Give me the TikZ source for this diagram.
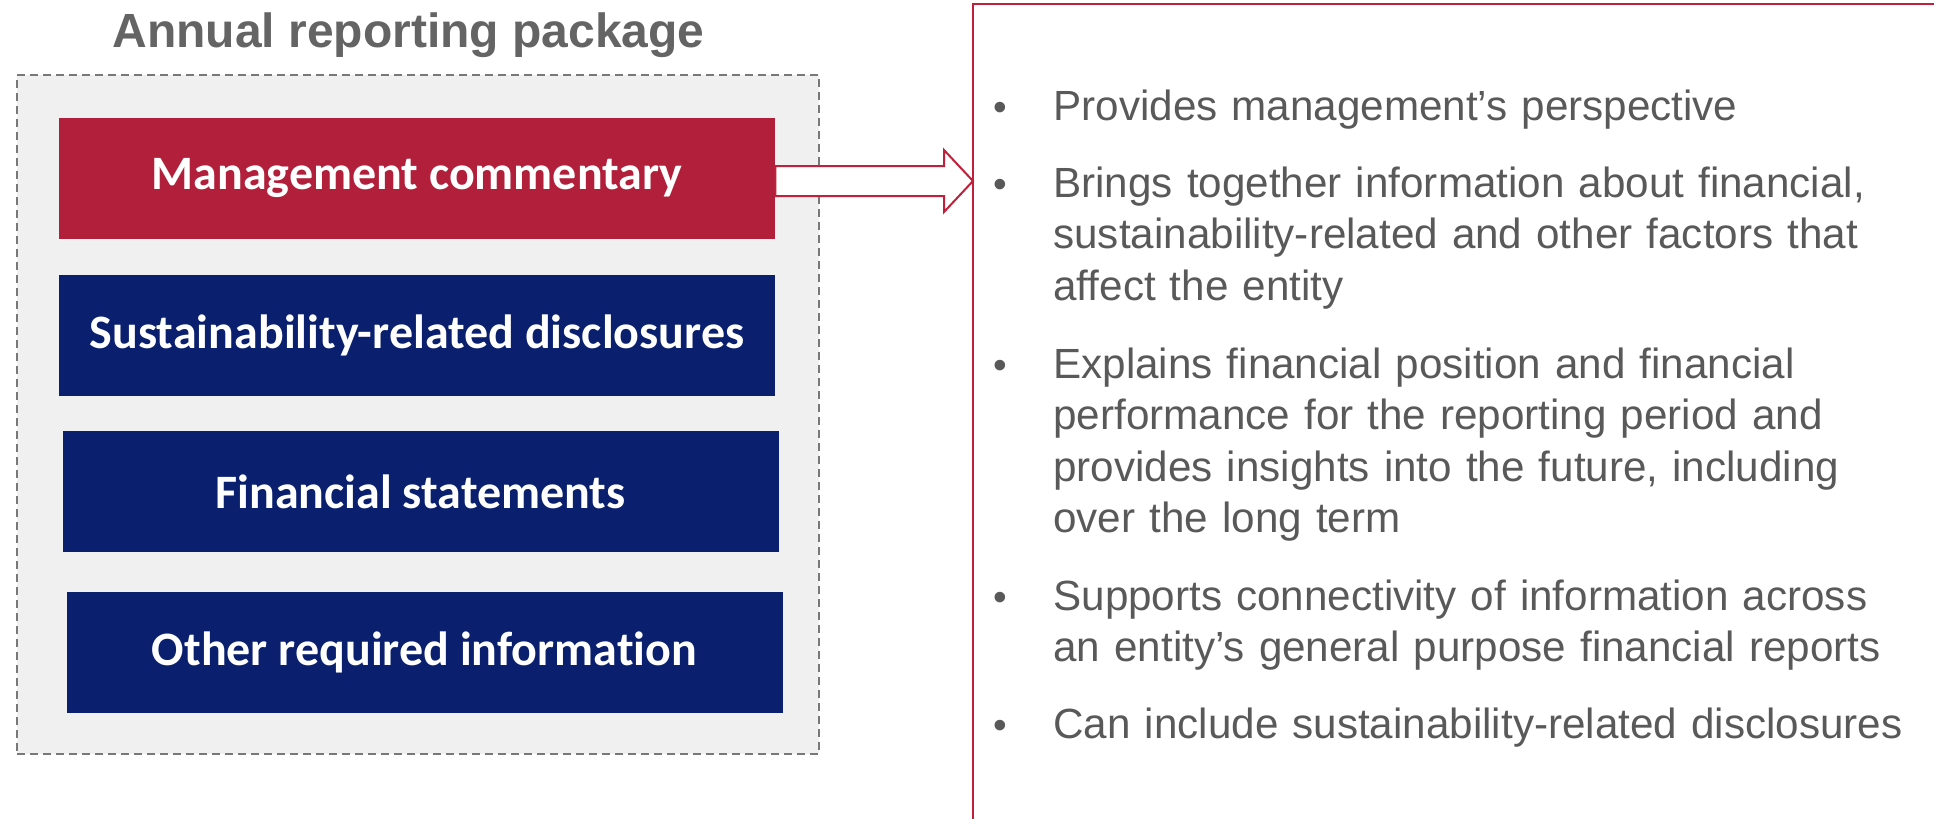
\documentclass[tikz,border=0pt]{standalone}
\usepackage{fontspec}
\setmainfont{Liberation Sans}
\newfontfamily\calfont{Carlito}[Ligatures=NoCommon]
\usetikzlibrary{calc}
\definecolor{mcred}{RGB}{178,31,58}
\definecolor{navy}{RGB}{10,32,110}
\definecolor{panel}{RGB}{240,240,240}
\definecolor{txtgray}{RGB}{89,89,89}
\definecolor{titlegray}{RGB}{100,100,100}
\definecolor{dashgray}{RGB}{120,120,120}
\definecolor{frame}{RGB}{192,32,58}
\begin{document}
\begin{tikzpicture}[x=0.5pt,y=-0.5pt,
  pbox/.style={rectangle, minimum width=358pt, minimum height=60.5pt, inner sep=0pt,
    text=white, font=\calfont\bfseries\fontsize{24}{28}\selectfont},
  redbox/.style={pbox, fill=mcred},
  bluebox/.style={pbox, fill=navy},
  panelbox/.style={rectangle, draw=dashgray, fill=panel, dash pattern=on 4pt off 2.5pt,
    line width=0.8pt, minimum width=401pt, minimum height=339.5pt, inner sep=0pt},
  titletext/.style={font=\bfseries\fontsize{24}{28}\selectfont, text=titlegray, anchor=base, inner sep=0pt},
  bullettext/.style={font=\fontsize{21.1}{25.75}\selectfont, text=txtgray, anchor=base west,
    inner sep=0pt, text width=450pt, align=left},
  bulletmark/.style={font=\fontsize{19.5}{25.75}\selectfont, text=txtgray, anchor=base west, inner sep=0pt},
  infobox/.style={draw=frame, line width=1pt},
  blockarrow/.style={draw=frame, fill=white, line width=1pt, line join=miter}
]
\useasboundingbox (0,0) rectangle (1934,819);

% right frame (extends beyond the page)
\draw[infobox] (973,4) rectangle (1990,880);
\coordinate (infowest) at (973,181);

% panel
\node[panelbox] (panel) at (418,414.5) {};
\node[titletext] (title) at (408.5,47) {Annual reporting package};

\node[redbox]  (mc)  at (417,178.5) {Management commentary};
\node[bluebox] (srd) at (417,335.5) {Sustainability-related disclosures};
\node[bluebox] (fs)  at (420.5,491.5) {Financial statements};
\node[bluebox] (ori) at (424.5,652.5) {Other required information};

% block arrow from management commentary to the frame
\filldraw[blockarrow]
  ($(mc.east)+(0,-12.5)$) -- ($(infowest)+(-29,-15)$) -- ($(infowest)+(-29,-31)$)
  -- (infowest) -- ($(infowest)+(-29,31)$) -- ($(infowest)+(-29,15)$)
  -- ($(mc.east)+(0,17.5)$) -- cycle;

% bullets
\node[bulletmark] (b1) at (993,120) {•};
\node[bullettext] (t1) at (1053,120) {Provides management’s perspective};
\node[bulletmark] (b2) at (993,197) {•};
\node[bullettext] (t2) at (1053,197) {Brings together information about financial,\\sustainability-related and other factors that\\affect the entity};
\node[bulletmark] (b3) at (993,378) {•};
\node[bullettext] (t3) at (1053,378) {Explains financial position and financial\\performance for the reporting period and\\provides insights into the future, including\\over the long term};
\node[bulletmark] (b4) at (993,610) {•};
\node[bullettext] (t4) at (1053,610) {Supports connectivity of information across\\an entity’s general purpose financial reports};
\node[bulletmark] (b5) at (993,738) {•};
\node[bullettext] (t5) at (1053,738) {Can include sustainability-related disclosures};
\end{tikzpicture}
\end{document}
